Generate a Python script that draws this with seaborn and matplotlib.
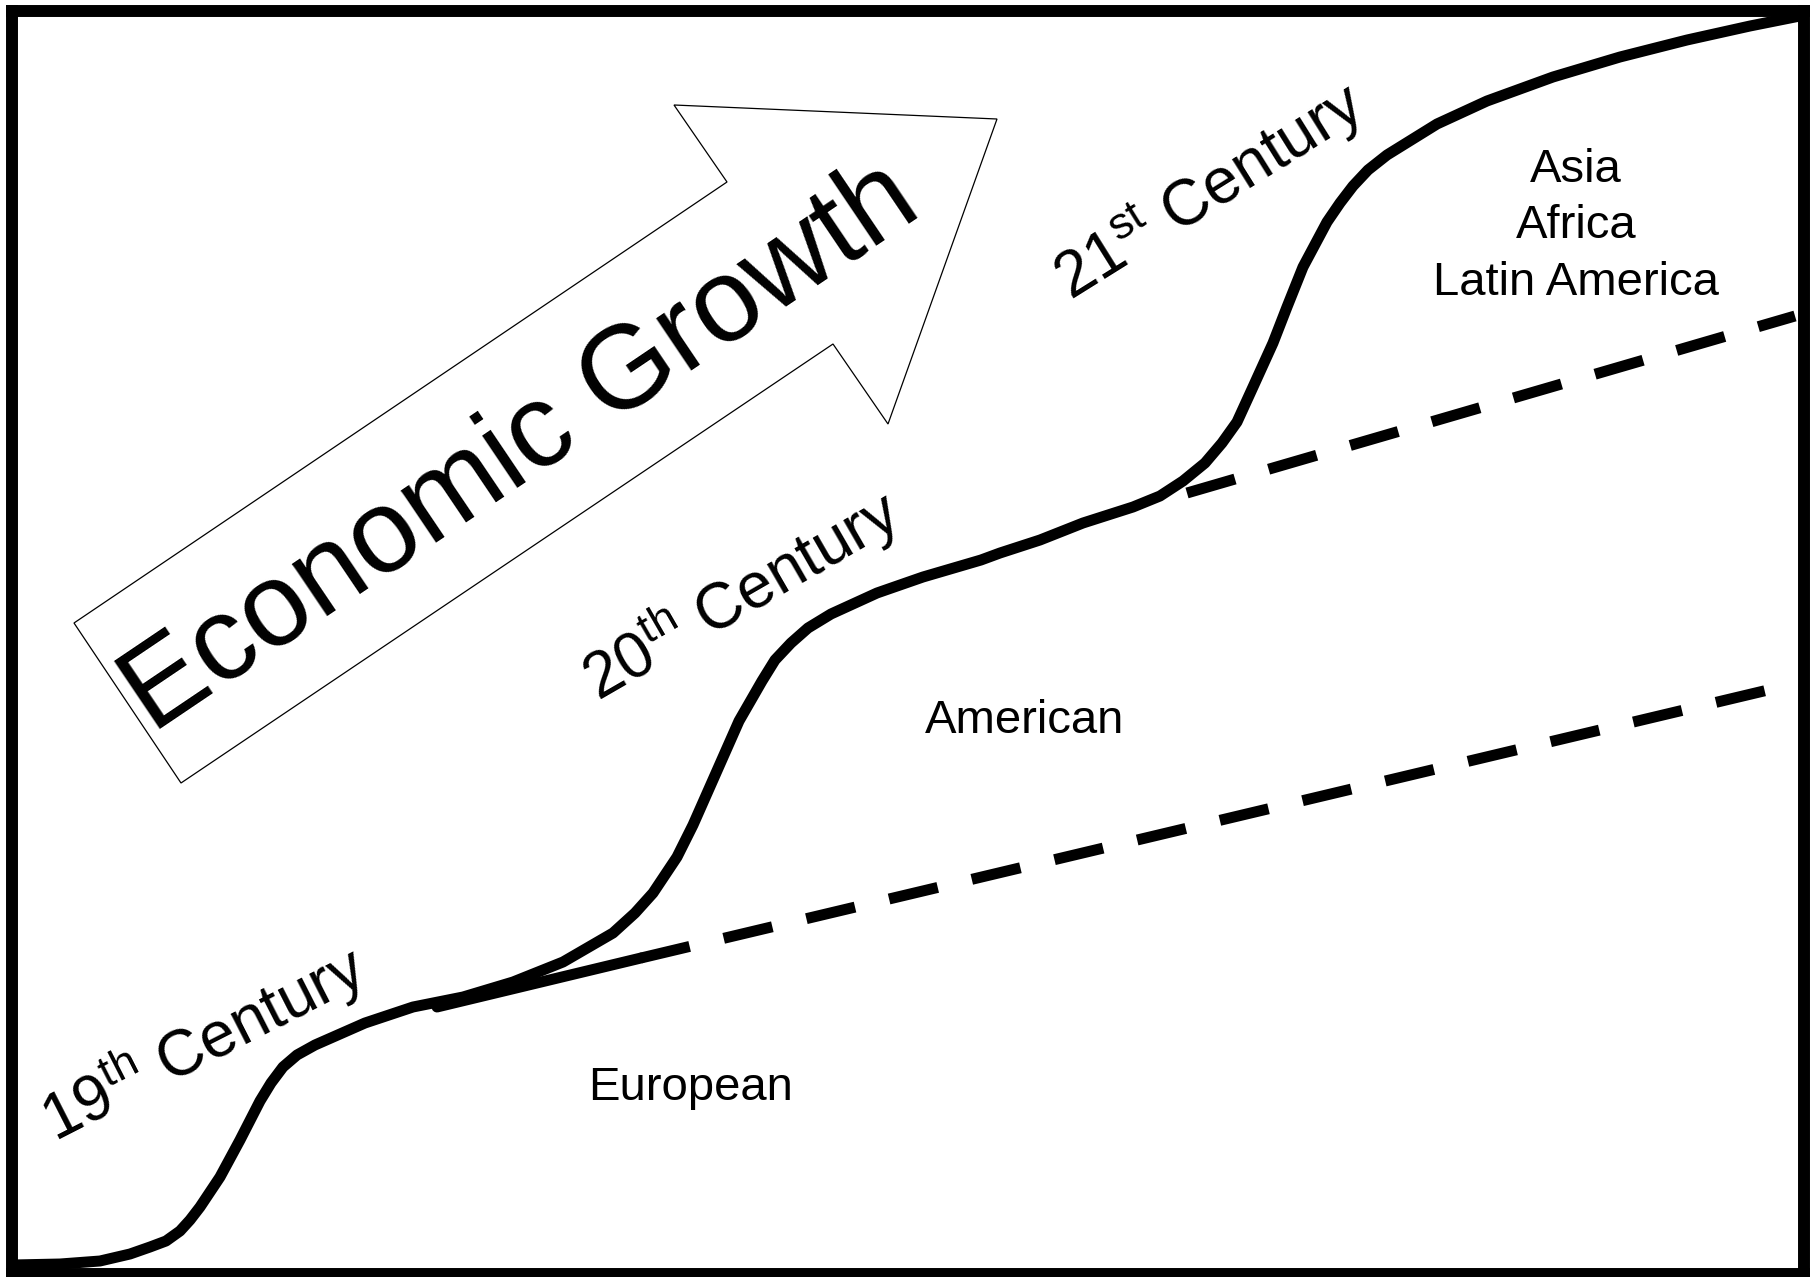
import matplotlib
matplotlib.use("Agg")
import numpy as np
import pandas as pd
import matplotlib.pyplot as plt
import seaborn as sns
from matplotlib.patches import Polygon

# Conceptual diagram, coordinates (pixels, y grows downward)

# S-shaped growth path through three centuries
growth_x = [12, 60, 100, 130, 150, 166, 180, 190, 200, 220, 240, 260, 271, 283, 297,
            315, 365, 413, 463, 513, 563, 613, 635, 653, 677, 693, 716, 739, 762, 775,
            791, 808, 831, 877, 923, 981, 1000, 1040, 1083, 1133, 1160, 1183, 1205,
            1222, 1237, 1253, 1273, 1287, 1303, 1327, 1340, 1353, 1368, 1387, 1437,
            1487, 1553, 1620, 1687, 1750, 1800]
growth_y = [1265, 1264, 1261, 1254, 1247, 1241, 1231, 1220, 1207, 1177, 1140, 1101, 1083,
            1067, 1055, 1045, 1023, 1007, 997, 982, 962, 933, 913, 893, 857, 825, 773,
            721, 681, 660, 643, 628, 614, 593, 577, 560, 553, 540, 523, 507, 496, 481,
            463, 443, 422, 387, 343, 307, 267, 222, 203, 186, 170, 155, 124, 101, 77,
            57, 40, 26, 16]

# European trend line (solid start, then dashed)
europe_solid_x = [437, 641]
europe_solid_y = [1007, 958]
europe_dash_x = [641, 1768]
europe_dash_y = [958, 690]

# American trend line (dashed)
america_x = [1187, 1795]
america_y = [493, 316]

# outline of the "Economic Growth" arrow
arrow_x = [74, 727, 674, 997, 888, 833, 181]
arrow_y = [623, 182, 105, 119, 424, 344, 783]

century_labels = ["19$^{th}$ Century", "20$^{th}$ Century", "21$^{st}$ Century"]
century_pos = [(55, 1143), (598, 702), (1071, 301)]
century_rot = [27, 30, 32]

region_labels = ["European", "American", "Asia", "Africa", "Latin America"]
region_pos = [(691, 1100), (1025, 733), (1576, 182), (1576, 238), (1576, 295)]

sns.set_style("white")
plt.rcParams["font.family"] = ["Liberation Sans", "DejaVu Sans"]
plt.rcParams["mathtext.default"] = "regular"
plt.rcParams["lines.scale_dashes"] = False

W, H = 1810, 1277
fig = plt.figure(figsize=(W / 100, H / 100), dpi=100)
left, right, top, bottom = 12, 1804, 11, 1274
ax = fig.add_axes([left / W, (H - bottom) / H, (right - left) / W, (bottom - top) / H])

lw = 7.9
sns.lineplot(x=growth_x, y=growth_y, sort=False, estimator=None, color="black",
             linewidth=lw, ax=ax)
ax.lines[-1].set_solid_joinstyle("round")
sns.lineplot(x=europe_solid_x, y=europe_solid_y, sort=False, estimator=None,
             color="black", linewidth=lw, ax=ax)
sns.lineplot(x=europe_dash_x, y=europe_dash_y, sort=False, estimator=None,
             color="black", linewidth=lw, ax=ax)
ax.lines[-1].set_dashes([36, 25.2])
ax.lines[-1].set_dash_capstyle("butt")
sns.lineplot(x=america_x, y=america_y, sort=False, estimator=None,
             color="black", linewidth=lw, ax=ax)
ax.lines[-1].set_dashes([36, 25.2])
ax.lines[-1].set_dash_capstyle("butt")

ax.add_patch(Polygon(np.column_stack([arrow_x, arrow_y]), closed=True,
                     facecolor="white", edgecolor="black", linewidth=0.9, zorder=1))
ax.text(152, 734, "Economic Growth", rotation=34, rotation_mode="anchor",
        ha="left", va="baseline", fontsize=85, color="black")

for lab, (x, y), r in zip(century_labels, century_pos, century_rot):
    ax.text(x, y, lab, rotation=r, rotation_mode="anchor", ha="left",
            va="baseline", fontsize=46, color="black")

for lab, (x, y) in zip(region_labels, region_pos):
    ax.text(x, y, lab, ha="center", va="baseline", fontsize=34, color="black")

ax.set_xlim(left, right)
ax.set_ylim(bottom, top)
ax.set_xticks([])
ax.set_yticks([])
ax.set_xlabel("")
ax.set_ylabel("")
for s in ax.spines.values():
    s.set_visible(True)
    s.set_color("black")
    s.set_linewidth(8.6)

fig.savefig("out.png", dpi=100)
